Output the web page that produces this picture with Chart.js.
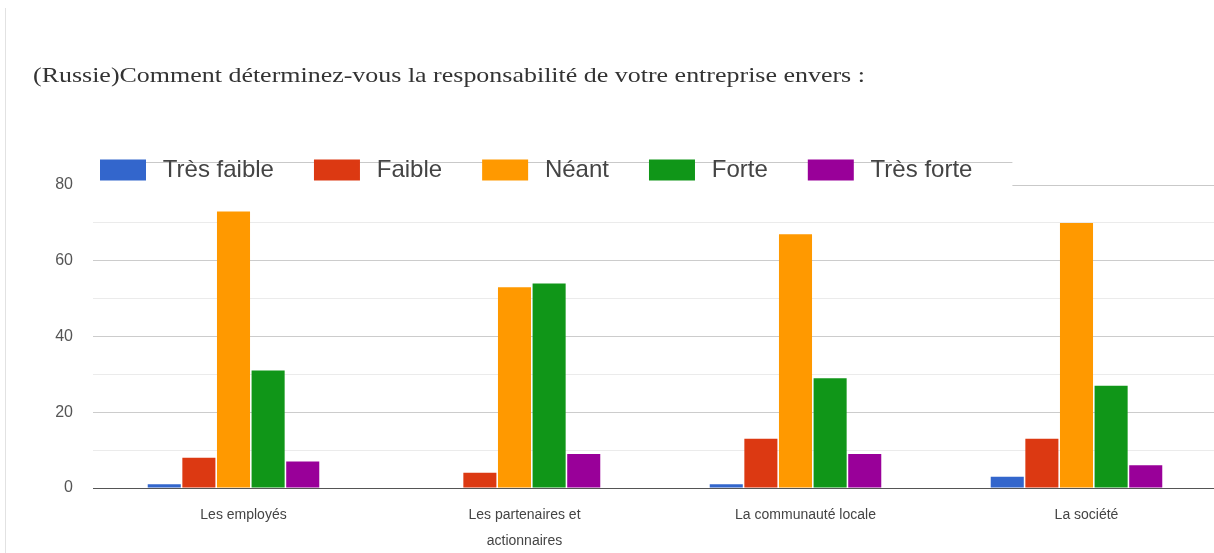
<!DOCTYPE html>
<html>
<head>
<meta charset="utf-8">
<script src="https://cdn.jsdelivr.net/npm/chart.js@4/dist/chart.umd.min.js"></script>
<style>
  html, body { margin: 0; padding: 0; background: #fff; overflow: hidden; }
  .card { position: absolute; left: 5px; top: 8px; width: 1px; height: 545px; background: #e2e2e2; }
  .title {
    position: absolute; left: 33px; top: 61px;
    font-family: "Liberation Serif", "Times New Roman", serif;
    font-size: 22px; line-height: 28px; color: #333;
    white-space: nowrap;
    transform: scaleX(1.18); transform-origin: left center;
  }
  canvas { position: absolute; left: 0; top: 0; }
</style>
</head>
<body>
<div class="card"></div>
<canvas id="chart" width="1240" height="553"></canvas>
<div class="title">(Russie)Comment déterminez-vous la responsabilité de votre entreprise envers  :</div>
<script>
const categories = ['Les employés', ['Les partenaires et', 'actionnaires'], 'La communauté locale', 'La société'];
const seriesNames = ['Très faible', 'Faible', 'Néant', 'Forte', 'Très forte'];
const seriesColors = ['#3366cc', '#dc3912', '#ff9900', '#109618', '#990099'];

const tresFaible = [1, 0, 1, 3];
const faible = [8, 4, 13, 13];
const neant = [73, 53, 67, 70];
const forte = [31, 54, 29, 27];
const tresForte = [7, 9, 9, 6];

const yTicks = [0, 20, 40, 60, 80];

const seriesValues = [tresFaible, faible, neant, forte, tresForte];

// grey rule behind the legend + the bit of the top gridline right of it
const legendRule = {
    id: 'legendRule',
    beforeDraw(chart) {
        const boxes = chart.legend.legendHitBoxes;
        if (!boxes || !boxes.length) return;
        const ctx = chart.ctx;
        const pad = chart.legend.options.labels.padding;
        const first = boxes[0];
        const last = boxes[boxes.length - 1];
        const xEnd = last.left + last.width + pad;
        const yTop = chart.scales.y.getPixelForValue(80);
        ctx.save();
        ctx.strokeStyle = '#c9c9c9';
        ctx.lineWidth = 1;
        ctx.beginPath();
        ctx.moveTo(first.left, Math.round(first.top + 4) + 0.5);
        ctx.lineTo(xEnd, Math.round(first.top + 4) + 0.5);
        ctx.moveTo(xEnd, Math.round(yTop) + 0.5);
        ctx.lineTo(chart.chartArea.right, Math.round(yTop) + 0.5);
        ctx.stroke();
        ctx.restore();
    }
};

const ctx = document.getElementById('chart');

const myChart = new Chart(ctx, {
    type: 'bar',
    data: {
        labels: categories,
        datasets: seriesNames.map((name, i) => ({
            label: name,
            data: seriesValues[i],
            backgroundColor: seriesColors[i],
            borderWidth: 0,
            categoryPercentage: 0.616,
            barPercentage: 0.955
        }))
    },
    options: {
        responsive: false,
        animation: false,
        layout: {
            padding: { left: 60, top: 118, right: 23, bottom: 0 }
        },
        scales: {
            x: {
                border: { display: false },
                grid: { display: false },
                ticks: {
                    color: '#444',
                    padding: 6,
                    labelOffset: 10,
                    maxRotation: 0,
                    autoSkip: false,
                    font: { family: 'Liberation Sans, Arial, sans-serif', size: 14, lineHeight: 1.86 }
                },
                afterFit: (scale) => { scale.height = 65; }
            },
            y: {
                min: 0,
                max: 80,
                border: { display: false },
                grid: {
                    drawTicks: false,
                    color: (c) => {
                        const v = c.tick.value;
                        if (v === 0) return '#555';
                        if (v === 80) return 'transparent';
                        return v % 20 === 0 ? '#cccccc' : '#ebebeb';
                    }
                },
                ticks: {
                    stepSize: 10,
                    padding: 20,
                    color: '#555',
                    font: { family: 'Liberation Sans, Arial, sans-serif', size: 16 },
                    callback: (v) => yTicks.includes(v) ? v : ''
                },
                afterFit: (scale) => {
                    scale.width = 33;
                    // labels sit left of the narrow axis box, so don't clip them
                    scale._computeLabelArea = () => undefined;
                }
            }
        },
        plugins: {
            legend: {
                position: 'top',
                align: 'start',
                labels: {
                    boxWidth: 46,
                    boxHeight: 21,
                    padding: 40,
                    color: '#444',
                    font: { family: 'Liberation Sans, Arial, sans-serif', size: 24 },
                    generateLabels: (chart) =>
                        Chart.defaults.plugins.legend.labels.generateLabels(chart)
                            .map((item) => ({ ...item, text: '\u2009' + item.text }))
                }
            },
            tooltip: { enabled: false }
        }
    },
    plugins: [legendRule, {
        id: 'legendHeight',
        afterInit(chart) {
            const legend = chart.legend;
            const fit = legend.fit;
            legend.fit = function () {
                fit.call(this);
                this.height = 67;
            };
        }
    }]
});
</script>
</body>
</html>
